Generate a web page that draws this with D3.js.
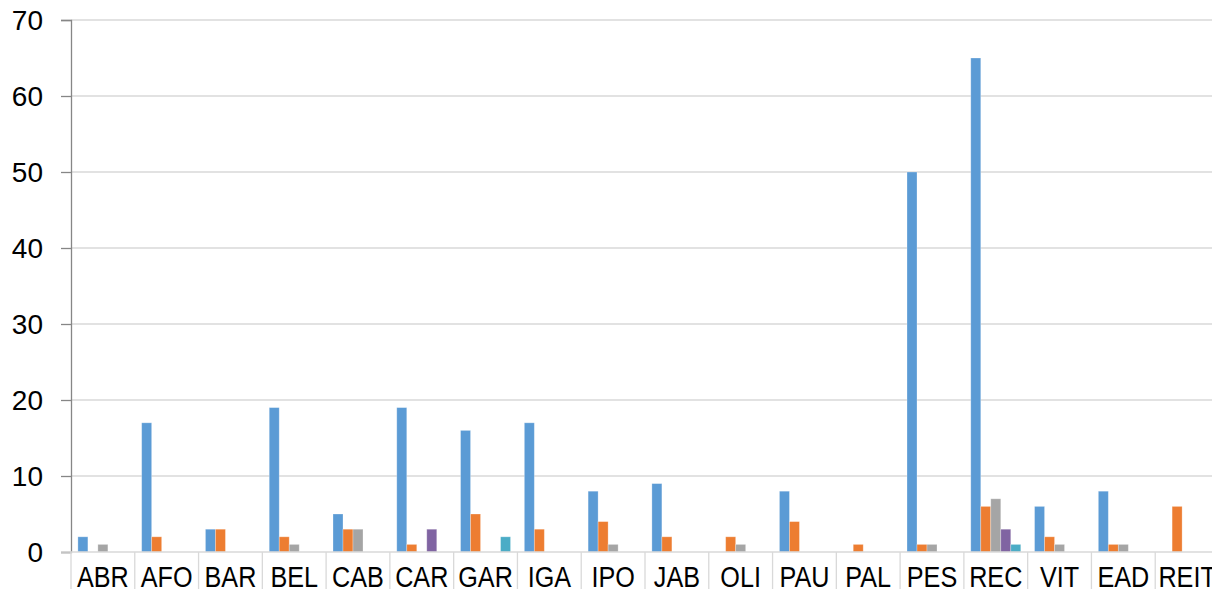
<html>
<head>
<meta content="text/html;charset=utf-8" http-equiv="Content-Type"/>
<style>
  body { margin: 0; background: #fff; overflow: hidden; }
  text { font-family: "Liberation Sans", Arial, sans-serif; fill: #000; }
</style>
</head>
<body>
<svg id="chart" width="1212" height="589"></svg>
<script src="https://d3js.org/d3.v7.min.js"></script>
<script>
// categories along the x axis
const categories = ["ABR","AFO","BAR","BEL","CAB","CAR","GAR","IGA","IPO","JAB",
                    "OLI","PAU","PAL","PES","REC","VIT","EAD","REIT"];
const seriesNames = ["s1","s2","s3","s4","s5"];
const seriesColors = ["#5b9bd5","#ed7d31","#a5a5a5","#8064a2","#4bacc6"];

// values, one array per series
const s1 = [2,17,3,19,5,19,16,17,8,9,0,8,0,50,65,6,8,0];
const s2 = [0,2,3,2,3,1,5,3,4,2,2,4,1,1,6,2,1,6];
const s3 = [1,0,0,1,3,0,0,0,1,0,1,0,0,1,7,1,1,0];
const s4 = [0,0,0,0,0,3,0,0,0,0,0,0,0,0,3,0,0,0];
const s5 = [0,0,0,0,0,0,2,0,0,0,0,0,0,0,1,0,0,0];
const yTicks = [0,10,20,30,40,50,60,70];

const allSeries = [s1,s2,s3,s4,s5];

const svg = d3.select("#chart");
const plotLeft = 71, plotRight = 1219, plotTop = 20, plotBottom = 552;

const x = d3.scaleBand().domain(categories).range([plotLeft, plotRight]);
const bw = x.bandwidth();
const gap = (bw - 5 * 10) / 2;
const xs = d3.scaleBand().domain(seriesNames).range([gap, bw - gap]);
const y = d3.scaleLinear().domain([0, 70]).range([plotBottom, plotTop]);

// gridlines
svg.append("g").selectAll("line")
  .data(yTicks.filter(d => d > 0))
  .enter().append("line")
  .attr("x1", plotLeft).attr("x2", plotRight)
  .attr("y1", d => y(d)).attr("y2", d => y(d))
  .attr("style", "stroke:#d9d9d9;stroke-width:1.3");

// bars
const data = [];
categories.forEach((c, i) => {
  allSeries.forEach((s, j) => {
    if (s[i] > 0) data.push({c: c, k: seriesNames[j], v: s[i], color: seriesColors[j]});
  });
});
svg.append("g").selectAll("rect")
  .data(data)
  .enter().append("rect")
  .attr("x", d => x(d.c) + xs(d.k))
  .attr("y", d => y(d.v))
  .attr("width", xs.bandwidth())
  .attr("height", d => plotBottom - y(d.v))
  .attr("fill", d => d.color)
  .attr("stroke", "rgba(255,255,255,0.35)")
  .attr("stroke-width", 0.8);

// y axis
const yAxis = d3.axisLeft(y).tickValues(yTicks).tickSize(10).tickPadding(18);
const gy = svg.append("g").attr("transform", `translate(${plotLeft},0)`).call(yAxis);
gy.select(".domain").attr("stroke", "#868686").attr("stroke-width", 1.3);
gy.selectAll(".tick line").attr("stroke", "#868686").attr("stroke-width", 1.3);
gy.selectAll(".tick text")
  .attr("font-size", 28)
  .attr("font-family", "Liberation Sans, Arial, sans-serif")
  .attr("fill", "#000")
  .attr("dy", "0.35em");

// x axis: baseline plus category separators
svg.append("line")
  .attr("x1", plotLeft - 10).attr("x2", plotRight)
  .attr("y1", plotBottom).attr("y2", plotBottom)
  .attr("style", "stroke:#d9d9d9;stroke-width:1.5");
svg.append("g").selectAll("line")
  .data(categories)
  .enter().append("line")
  .attr("x1", d => x(d)).attr("x2", d => x(d))
  .attr("y1", plotBottom).attr("y2", 589)
  .attr("style", "stroke:#d9d9d9;stroke-width:1.3");
svg.append("g").selectAll("text")
  .data(categories)
  .enter().append("text")
  .attr("transform", d => `translate(${x(d) + bw / 2},587) scale(0.9,1.05)`)
  .attr("text-anchor", "middle")
  .attr("font-size", 28)
  .text(d => d);
</script>
</body>
</html>
